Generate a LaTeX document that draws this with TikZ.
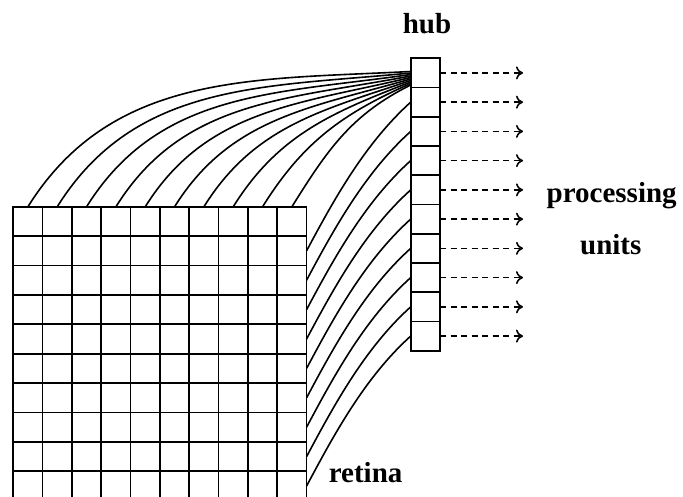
\documentclass[tikz,border=0pt]{standalone}
\usepackage{fontspec}
\setmainfont{Liberation Serif}
\usetikzlibrary{arrows.meta,calc}
\begin{document}
\begin{tikzpicture}[x=1pt,y=1pt,line width=1.7pt,
  cell/.style={draw,rectangle,inner sep=0pt,outer sep=0pt,minimum width=29.33pt,minimum height=29.4pt},
  hubcell/.style={draw,rectangle,inner sep=0pt,outer sep=0pt,minimum width=29.3pt,minimum height=29.24pt},
  wire/.style={line width=1.6pt},
  outarrow/.style={line width=1.6pt,dash pattern=on 6pt off 4.5pt,-{To[length=7pt,width=13pt]}},
  lbl/.style={font=\fontsize{29}{34}\selectfont\bfseries,inner sep=0pt}]
\clip (0,0) rectangle (683,497);
% retina
\foreach \r in {0,...,9}{
  \foreach \c in {0,...,9}{
    \node[cell] (r-\r-\c) at ({13.3+29.33*(\c+0.5)},{290.3-29.4*(\r+0.5)}) {};
  }
}
% hub
\foreach \k in {0,...,9}{
  \node[hubcell] (h-\k) at (425.35,{438.7-29.24*(\k+0.5)}) {};
}
% top wires into first hub cell
\foreach \c in {0,...,9}{
  \coordinate (e-\c) at ($(h-0.west)+(0,{1.42-1.5*\c})$);
  \draw[wire] (r-0-\c.north) to[out=58,in={183+2.6*\c}] (e-\c);
}
% side wires
\foreach \r in {1,...,9}{
  \draw[wire] (r-\r-9.east) to[out=62,in=222,looseness=0.85] (h-\r.west);
}
% outputs
\foreach \k in {0,...,9}{
  \coordinate (p-\k) at ($(h-\k.east)+(83,0)$);
  \draw[outarrow] (h-\k.east) -- (p-\k);
}
\node[lbl,anchor=base] (hub) at (427,463) {hub};
\node[lbl,anchor=base] (proc) at (611.7,294.7) {processing};
\node[lbl,anchor=base] (units) at (610.8,242) {units};
\node[lbl,anchor=base west] (retina) at (328,14.7) {retina};
\end{tikzpicture}
\end{document}
